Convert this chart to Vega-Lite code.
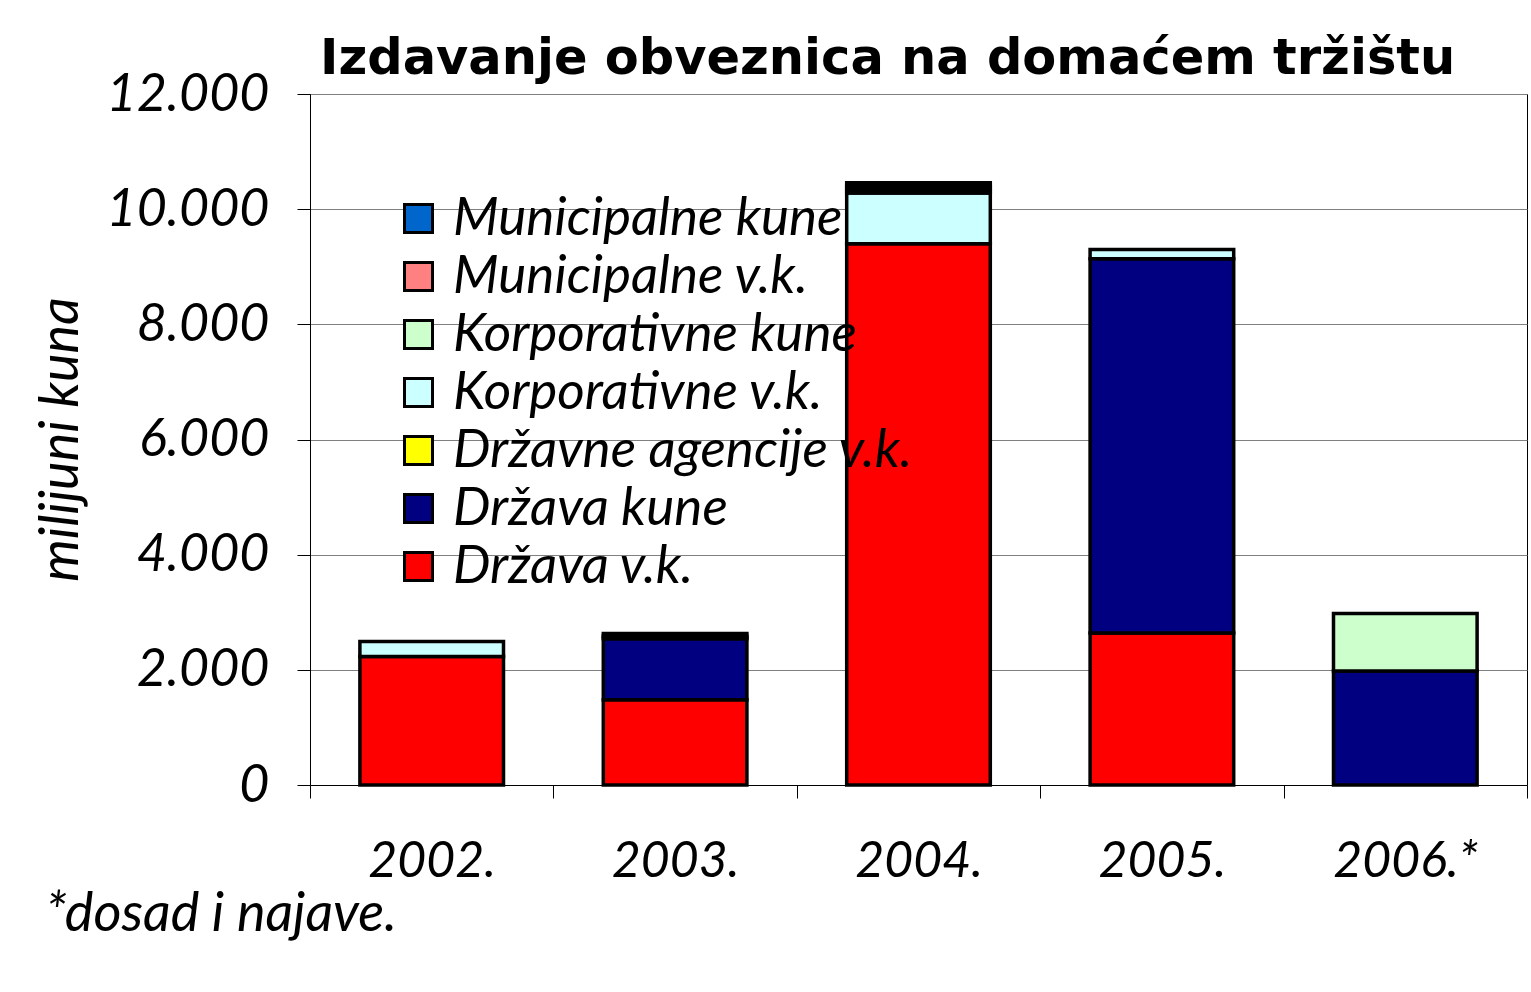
{
  "$schema": "https://vega.github.io/schema/vega-lite/v6.json",
  "width": 1217,
  "height": 691,
  "autosize": {"type": "none"},
  "padding": {"left": 310, "top": 94, "right": 4, "bottom": 207},
  "background": "white",
  "title": {
    "text": "Izdavanje obveznica na domaćem tržištu",
    "anchor": "start",
    "frame": "group",
    "dx": 10,
    "dy": 73,
    "offset": 8,
    "baseline": "bottom",
    "font": "DejaVu Sans",
    "fontSize": 49.5,
    "fontWeight": "bold",
    "color": "black"
  },
  "data": {
    "values": [
      {"year": "2002.", "series": "Država v.k.", "value": 2230},
      {"year": "2002.", "series": "Korporativne v.k.", "value": 260},
      {"year": "2003.", "series": "Država v.k.", "value": 1480},
      {"year": "2003.", "series": "Država kune", "value": 1060},
      {"year": "2003.", "series": "Municipalne v.k.", "value": 45},
      {"year": "2003.", "series": "Municipalne kune", "value": 45},
      {"year": "2004.", "series": "Država v.k.", "value": 9400},
      {"year": "2004.", "series": "Korporativne v.k.", "value": 880},
      {"year": "2004.", "series": "Korporativne kune", "value": 60},
      {"year": "2004.", "series": "Municipalne v.k.", "value": 60},
      {"year": "2004.", "series": "Municipalne kune", "value": 60},
      {"year": "2005.", "series": "Država v.k.", "value": 2640},
      {"year": "2005.", "series": "Država kune", "value": 6500},
      {"year": "2005.", "series": "Korporativne v.k.", "value": 160},
      {"year": "2006.*", "series": "Država kune", "value": 1980},
      {"year": "2006.*", "series": "Korporativne kune", "value": 1000}
    ]
  },
  "transform": [
    {"calculate": "indexof(['Država v.k.', 'Država kune', 'Državne agencije v.k.', 'Korporativne v.k.', 'Korporativne kune', 'Municipalne v.k.', 'Municipalne kune'], datum.series)", "as": "stackRank"}
  ],
  "mark": {"type": "bar", "stroke": "black", "strokeWidth": 3.5, "width": {"band": 0.59}},
  "encoding": {
    "x": {
      "field": "year",
      "type": "nominal",
      "sort": ["2002.", "2003.", "2004.", "2005.", "2006.*"],
      "scale": {"paddingInner": 0, "paddingOuter": 0},
      "axis": {
        "title": "*dosad i najave.",
        "titleAnchor": "start",
        "titleAlign": "left",
        "titleBaseline": "alphabetic",
        "titleX": -265,
        "titleY": 145,
        "titleFont": "Lato",
        "titleFontSize": 54,
        "titleFontStyle": "italic",
        "titleFontWeight": "normal",
        "titleColor": "black",
        "labelAngle": 0,
        "labelFont": "Lato",
        "labelFontSize": 50,
        "labelFontStyle": "italic",
        "labelColor": "black",
        "labelPadding": 38,
        "labelBaseline": "top",
        "tickBand": "extent",
        "tickSize": 13,
        "tickColor": "black",
        "domainColor": "black",
        "grid": false
      }
    },
    "y": {
      "field": "value",
      "type": "quantitative",
      "aggregate": "sum",
      "stack": "zero",
      "scale": {"domain": [0, 12000], "nice": false},
      "axis": {
        "title": "milijuni kuna",
        "values": [0, 2000, 4000, 6000, 8000, 10000, 12000],
        "labelExpr": "replace(format(datum.value, ','), ',', '.')",
        "titleX": -233,
        "titleY": 345,
        "titleAngle": -90,
        "titleAlign": "center",
        "titleBaseline": "alphabetic",
        "titleFont": "Lato",
        "titleFontSize": 54,
        "titleFontStyle": "italic",
        "titleFontWeight": "normal",
        "titleColor": "black",
        "labelFont": "Lato",
        "labelFontSize": 52,
        "labelFontStyle": "italic",
        "labelColor": "black",
        "labelPadding": 28,
        "tickSize": 13,
        "tickColor": "black",
        "domainColor": "black",
        "gridColor": "#808080",
        "gridWidth": 1
      }
    },
    "color": {
      "field": "series",
      "type": "nominal",
      "scale": {
        "domain": ["Municipalne kune", "Municipalne v.k.", "Korporativne kune", "Korporativne v.k.", "Državne agencije v.k.", "Država kune", "Država v.k."],
        "range": ["#0066CC", "#FF8080", "#CCFFCC", "#CCFFFF", "#FFFF00", "#000080", "#FF0000"]
      },
      "legend": {
        "title": null,
        "orient": "none",
        "legendX": 82,
        "legendY": 98,
        "padding": 0,
        "values": ["Municipalne kune", "Municipalne v.k.", "Korporativne kune", "Korporativne v.k.", "Državne agencije v.k.", "Država kune", "Država v.k."],
        "symbolType": "square",
        "symbolSize": 784,
        "symbolStrokeColor": "black",
        "symbolStrokeWidth": 3,
        "symbolOpacity": 1,
        "labelFont": "Lato",
        "labelFontSize": 53,
        "labelFontStyle": "italic",
        "labelColor": "black",
        "labelOffset": 8,
        "labelLimit": 0,
        "rowPadding": 4
      }
    },
    "order": {"field": "stackRank", "type": "quantitative", "sort": "ascending"}
  },
  "config": {
    "view": {"stroke": "black", "strokeWidth": 1}
  }
}
